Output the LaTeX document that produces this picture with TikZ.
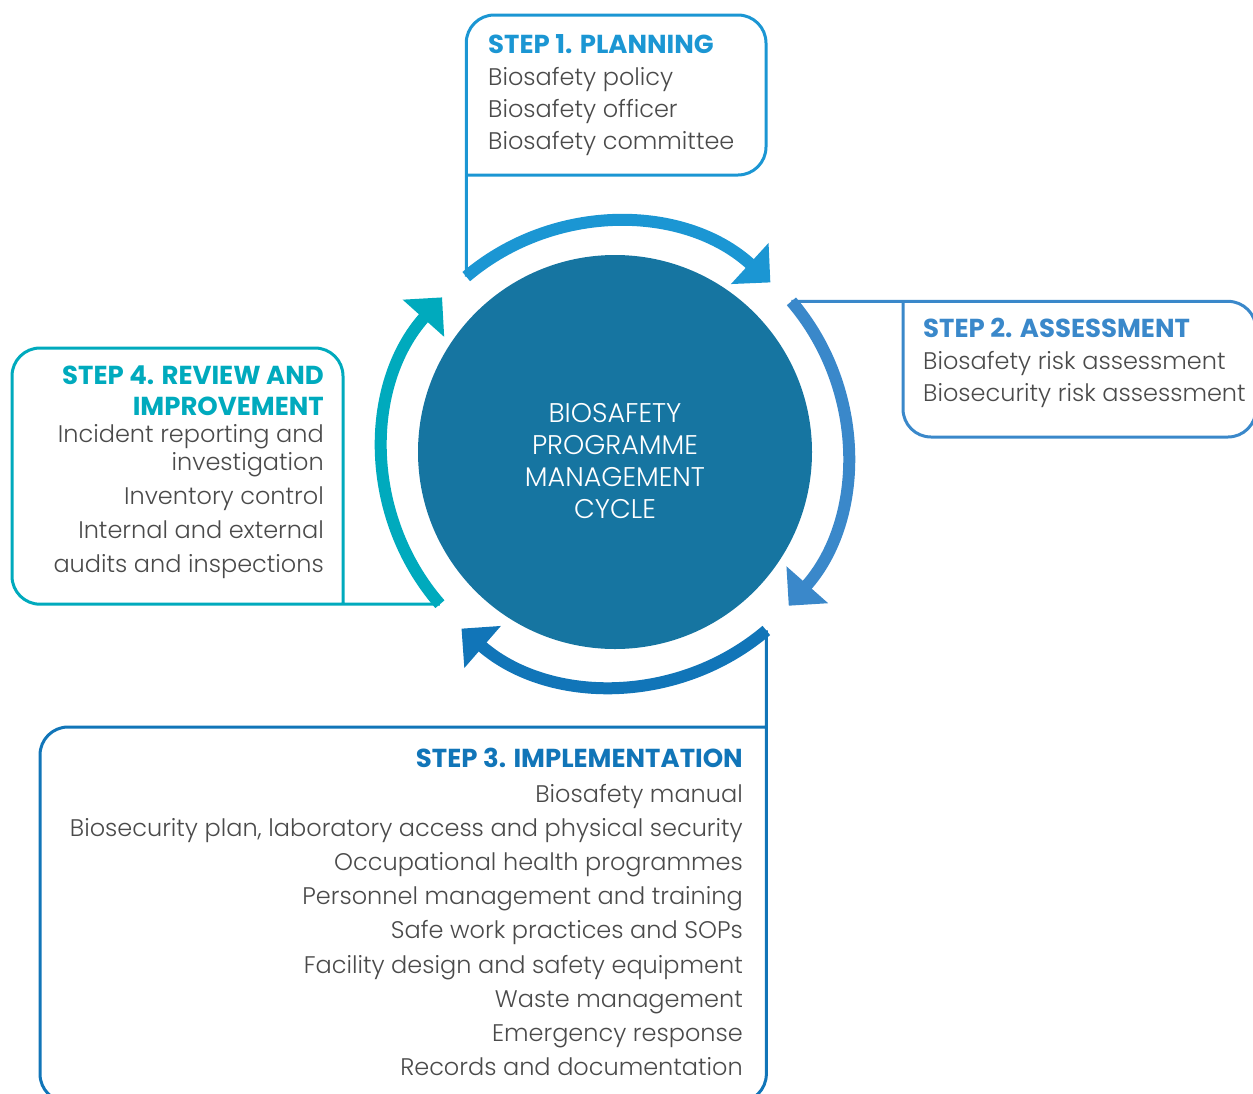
\documentclass[tikz,border=0pt]{standalone}
\usepackage{fontspec}
\usetikzlibrary{arrows.meta}
\setmainfont{Poppins}
\IfFontExistsTF{Poppins Light}
  {\newfontfamily\lightfnt{Poppins Light}}
  {\newfontfamily\lightfnt{Poppins}}
\definecolor{cplan}{HTML}{1B96D3}
\definecolor{cassess}{HTML}{3A88CA}
\definecolor{cimpl}{HTML}{1175B8}
\definecolor{creview}{HTML}{00AABD}
\definecolor{chub}{HTML}{1675A1}
\definecolor{ctext}{HTML}{4A4A4A}
\newcommand{\bodyfnt}{\lightfnt\fontsize{24}{28}\selectfont}
\newcommand{\headfnt}{\bfseries\fontsize{26}{30}\selectfont}
\begin{document}
\begin{tikzpicture}[x=1pt,y=-1pt,
  stepframe/.style={line width=3pt, rounded corners=28pt},
  cyclearc/.style={line width=12pt, -{Triangle[length=28pt,width=54pt]}},
  bodyline/.style={inner sep=0pt, text=ctext, font=\bodyfnt},
  headline/.style={inner sep=0pt, font=\headfnt}]
\useasboundingbox (0,0) rectangle (1253,1093);
\clip (0,0) rectangle (1253,1093);

% central hub
\coordinate (hubc) at (615,452);
\node[circle, fill=chub, minimum size=394pt, inner sep=0pt] (hub) at (hubc) {};
\node[text=white, align=center, inner sep=0pt,
      font=\lightfnt\fontsize{27}{32}\selectfont] (hubtext) at (615,461)
  {BIOSAFETY\\PROGRAMME\\MANAGEMENT\\CYCLE};

% tails of the four cycle arrows
\path (hubc) ++(-130.3:230) coordinate (t1);
\path (hubc) ++(-40.5:232) coordinate (t2);
\path (hubc) ++(49.7:234) coordinate (t3);
\path (hubc) ++(139:232) coordinate (t4);

% cycle arrows
\draw[cyclearc, cplan] (t1) arc[start angle=-130.3, end angle=-47.5, radius=230];
\draw[cyclearc, cassess] (t2) arc[start angle=-40.5, end angle=41.5, radius=232];
\draw[cyclearc, cimpl] (t3) arc[start angle=49.7, end angle=131, radius=234];
\draw[cyclearc, creview] (t4) arc[start angle=139, end angle=221.8, radius=232];

% step frames, each joined to the tail of its arrow
\draw[stepframe, cplan] (t1) |- (766,15) |- (t1 |- 0,175);
\draw[stepframe, cassess] (t2) -| (1256,437) -| (t2 -| 903,0);
\draw[stepframe, cimpl] (t3) |- (40,1102) |- (t3 |- 0,727);
\draw[stepframe, creview] (t4) -| (12,348) -| (t4 -| 343,0);

% step 1
\node[headline, text=cplan, anchor=base west] (s1h) at (488,53) {STEP 1. PLANNING};
\node[bodyline, anchor=base west] (s1a) at (488,85) {Biosafety policy};
\node[bodyline, anchor=base west] (s1b) at (488,117) {Biosafety officer};
\node[bodyline, anchor=base west] (s1c) at (488,149) {Biosafety committee};

% step 2
\node[headline, text=cassess, anchor=base west] (s2h) at (923,337) {STEP 2. ASSESSMENT};
\node[bodyline, anchor=base west] (s2a) at (923,369) {Biosafety risk assessment};
\node[bodyline, anchor=base west] (s2b) at (923,401) {Biosecurity risk assessment};

% step 3
\node[headline, text=cimpl, anchor=base east] (s3h) at (743,767) {STEP 3. IMPLEMENTATION};
\foreach \txt [count=\i] in {Biosafety manual,
    {Biosecurity plan, laboratory access and physical security},
    Occupational health programmes,
    Personnel management and training,
    Safe work practices and SOPs,
    Facility design and safety equipment,
    Waste management,
    Emergency response,
    Records and documentation}
  \node[bodyline, anchor=base east] (s3l\i) at (743,{802+34.2*(\i-1)}) {\txt};

% step 4
\node[headline, text=creview, anchor=base east] (s4h) at (324,384) {STEP 4. REVIEW AND};
\node[headline, text=creview, anchor=base east] (s4i) at (324,415) {IMPROVEMENT};
\node[bodyline, anchor=base east] (s4a) at (324,442) {Incident reporting and};
\node[bodyline, anchor=base east] (s4b) at (324,470) {investigation};
\node[bodyline, anchor=base east] (s4c) at (324,504) {Inventory control};
\node[bodyline, anchor=base east] (s4d) at (324,538) {Internal and external};
\node[bodyline, anchor=base east] (s4e) at (324,572) {audits and inspections};
\end{tikzpicture}
\end{document}
